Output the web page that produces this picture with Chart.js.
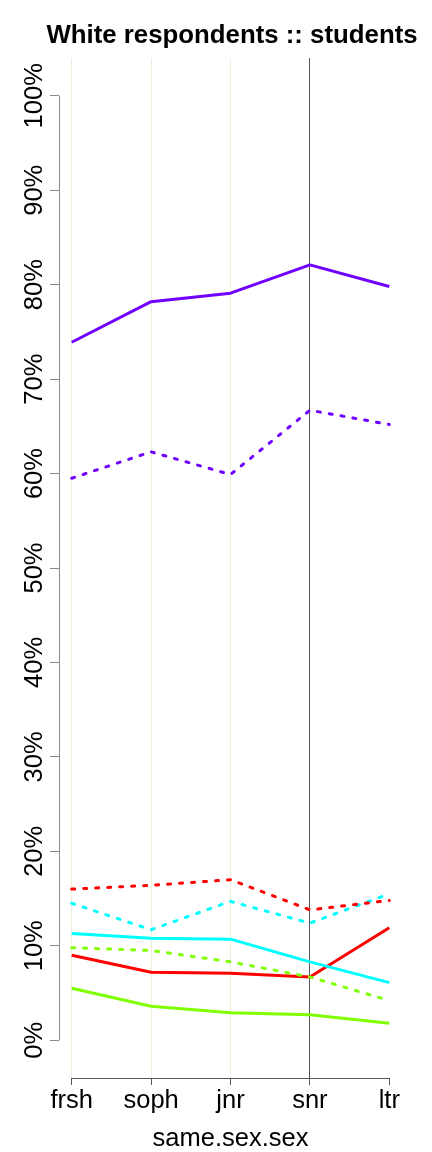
<!DOCTYPE html>
<html>
<head>
<meta charset="utf-8">
<script src="https://cdn.jsdelivr.net/npm/chart.js@4"></script>
<style>
  html, body { margin: 0; padding: 0; background: #fff; }
  #wrap { width: 432px; height: 1152px; }
</style>
</head>
<body>
<div id="wrap"><canvas id="chart" width="432" height="1152"></canvas></div>
<script>
// categories on the x axis
const years = ["frsh", "soph", "jnr", "snr", "ltr"];
// y tick values (percent)
const yTicks = [0, 10, 20, 30, 40, 50, 60, 70, 80, 90, 100];
const chartTitle = "White respondents :: students";

// series values (percent)
const purpleSolid  = [73.9, 78.2, 79.1, 82.1, 79.8];
const purpleDashed = [59.5, 62.3, 59.9, 66.7, 65.2];
const redDashed    = [16.0, 16.4, 17.0, 13.8, 14.8];
const cyanDashed   = [14.5, 11.7, 14.7, 12.4, 15.5];
const cyanSolid    = [11.3, 10.8, 10.7,  8.3,  6.1];
const greenDashed  = [ 9.8,  9.5,  8.3,  6.7,  4.2];
const redSolid     = [ 9.0,  7.2,  7.1,  6.7, 11.9];
const greenSolid   = [ 5.5,  3.6,  2.9,  2.7,  1.8];

const FONT = "'Liberation Sans', Arial, Helvetica, sans-serif";
const dotted = [3, 9];

function pts(arr) {
    return arr.map((v, i) => ({ x: i, y: v }));
}

function series(arr, color, dashed) {
    return {
        data: pts(arr),
        borderColor: color,
        borderWidth: 3,
        borderDash: dashed ? dotted : [],
        borderCapStyle: dashed ? "round" : "butt",
        borderJoinStyle: "round",
        pointRadius: 0,
        tension: 0,
        fill: false
    };
}

// axis lines, rotated y labels and title, drawn like R does
const rAxes = {
    id: "rAxes",
    afterDraw(chart) {
        const ctx = chart.ctx;
        const xs = chart.scales.x;
        const ys = chart.scales.y;
        const area = chart.chartArea;
        ctx.save();
        // y axis line (only between first and last tick)
        ctx.strokeStyle = "#8a8a8a";
        ctx.lineWidth = 1;
        ctx.beginPath();
        ctx.moveTo(area.left + 0.5, ys.getPixelForValue(0));
        ctx.lineTo(area.left + 0.5, ys.getPixelForValue(100));
        ctx.stroke();
        // x axis line
        ctx.strokeStyle = "#555";
        ctx.beginPath();
        ctx.moveTo(xs.getPixelForValue(0), area.bottom + 0.5);
        ctx.lineTo(xs.getPixelForValue(years.length - 1), area.bottom + 0.5);
        ctx.stroke();
        // y tick labels, rotated
        ctx.fillStyle = "#000";
        ctx.font = "25.5px " + FONT;
        ctx.textAlign = "center";
        ctx.textBaseline = "alphabetic";
        yTicks.forEach(v => {
            const py = ys.getPixelForValue(v);
            ctx.save();
            ctx.translate(42, py);
            ctx.rotate(-Math.PI / 2);
            ctx.fillText(v + "%", 0, 0);
            ctx.restore();
        });
        // title
        ctx.font = "bold 25.8px " + FONT;
        ctx.fillText(chartTitle, (area.left + area.right) / 2 + 1.5, 43.3);
        ctx.restore();
    }
};

const ctx = document.getElementById("chart").getContext("2d");
new Chart(ctx, {
    type: "line",
    data: {
        datasets: [
            series(purpleSolid, "#7000FF", false),
            series(purpleDashed, "#7000FF", true),
            series(redDashed, "#FF0000", true),
            series(cyanDashed, "#00FFFF", true),
            series(greenDashed, "#80FF00", true),
            series(cyanSolid, "#00FFFF", false),
            series(redSolid, "#FF0000", false),
            series(greenSolid, "#80FF00", false)
        ]
    },
    options: {
        responsive: false,
        animation: false,
        layout: { padding: { left: 0, right: 30, top: 58, bottom: 0 } },
        plugins: {
            legend: { display: false },
            tooltip: { enabled: false },
            title: { display: false }
        },
        scales: {
            x: {
                type: "linear",
                min: -0.16,
                max: 4.16,
                afterBuildTicks: s => { s.ticks = years.map((_, i) => ({ value: i })); },
                afterFit: s => { s.height = 74; },
                border: { display: false },
                grid: {
                    drawOnChartArea: true,
                    drawTicks: true,
                    tickLength: 7,
                    lineWidth: 1,
                    color: c => (c.index === 3 ? "#555" : (c.index === 4 ? "rgba(0,0,0,0)" : "#efeedd")),
                    tickColor: "#555"
                },
                ticks: {
                    color: "#000",
                    padding: 1,
                    maxRotation: 0,
                    autoSkip: false,
                    font: { family: FONT, size: 25.5 },
                    callback: v => years[v]
                },
                title: {
                    display: true,
                    text: "same.sex.sex",
                    color: "#000",
                    font: { family: FONT, size: 25.5, lineHeight: 1 },
                    padding: { top: 0, bottom: 0 }
                }
            },
            y: {
                type: "linear",
                min: -4,
                max: 104,
                afterBuildTicks: s => { s.ticks = yTicks.map(v => ({ value: v })); },
                afterFit: s => { s.width = 59; },
                border: { display: false },
                grid: {
                    drawOnChartArea: false,
                    drawTicks: true,
                    tickLength: 9,
                    color: "#8a8a8a",
                    tickColor: "#8a8a8a"
                },
                ticks: { display: false }
            }
        }
    },
    plugins: [rAxes]
});
</script>
</body>
</html>
